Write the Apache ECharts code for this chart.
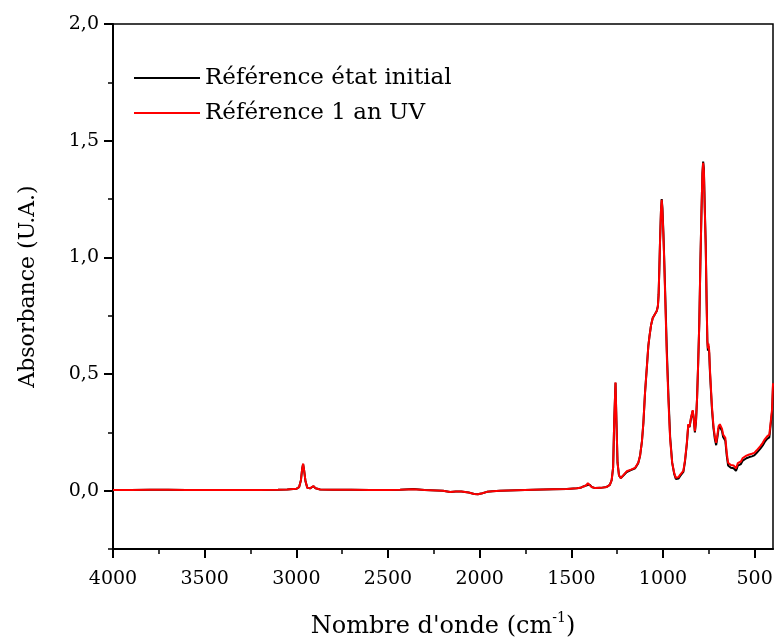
<!DOCTYPE html>
<html>
<head>
<meta charset="utf-8">
<script src="https://cdn.jsdelivr.net/npm/echarts@6/dist/echarts.min.js"></script>
<style>
html,body{margin:0;padding:0;background:#fff;}
#chart{width:776px;height:638px;}
</style>
</head>
<body>
<div id="chart"></div>
<script>
// Wavenumbers (cm-1)
var wn = [4000,3900,3800,3700,3600,3500,3400,3300,3200,3100,3050,3000,2985,2975,2968,2963,2958,2950,2940,2925,2907,2895,2870,2800,2700,2600,2500,2434,2362,2300,2200,2161,2130,2100,2060,2030,2010,1985,1960,1930,1889,1800,1707,1600,1525,1470,1450,1434,1420,1410,1400,1389,1370,1340,1307,1290,1280,1272,1266,1259,1254,1248,1240,1230,1215,1198,1175,1152,1135,1125,1115,1107,1098,1088,1080,1074,1065,1056,1045,1034,1028,1024,1020,1016,1011,1007,1003,998,994,987,979,970,961,950,939,930,925,915,907,898,889,880,870,862,855,848,838,832,826,820,814,808,802,796,790,785,781,777,772,767,762,758,755,752,748,744,740,733,725,717,710,703,697,690,684,678,672,665,660,652,645,638,630,622,615,608,602,596,592,588,583,575,565,557,545,529,515,502,490,483,470,456,445,432,420,410,405,400];
// Référence 1 an UV (red)
var absUV = [0.003,0.003,0.004,0.004,0.003,0.003,0.003,0.003,0.003,0.004,0.005,0.008,0.015,0.045,0.095,0.116,0.09,0.04,0.012,0.01,0.02,0.01,0.005,0.004,0.004,0.003,0.003,0.004,0.006,0.003,0.000,-0.006,-0.004,-0.004,-0.008,-0.014,-0.015,-0.011,-0.005,-0.002,0.000,0.002,0.004,0.006,0.007,0.010,0.012,0.018,0.022,0.032,0.028,0.016,0.011,0.012,0.016,0.025,0.045,0.10,0.30,0.464,0.30,0.12,0.065,0.054,0.068,0.083,0.090,0.098,0.12,0.15,0.21,0.29,0.42,0.53,0.62,0.66,0.71,0.74,0.755,0.77,0.79,0.84,0.95,1.075,1.20,1.246,1.20,1.10,1.00,0.80,0.575,0.38,0.22,0.12,0.076,0.055,0.05,0.058,0.068,0.073,0.085,0.13,0.204,0.285,0.275,0.31,0.345,0.31,0.255,0.30,0.40,0.55,0.72,0.98,1.20,1.36,1.405,1.37,1.20,1.05,0.80,0.64,0.61,0.63,0.60,0.52,0.46,0.36,0.28,0.23,0.205,0.24,0.276,0.285,0.288,0.265,0.24,0.24,0.226,0.16,0.12,0.115,0.11,0.105,0.108,0.10,0.096,0.108,0.118,0.112,0.11,0.125,0.14,0.145,0.15,0.155,0.158,0.162,0.172,0.177,0.19,0.205,0.22,0.233,0.24,0.242,0.35,0.46];
// Référence état initial (black)
var absInit = [0.003,0.003,0.004,0.004,0.003,0.003,0.003,0.003,0.003,0.004,0.005,0.008,0.015,0.045,0.095,0.114,0.09,0.04,0.012,0.01,0.019,0.01,0.005,0.004,0.004,0.003,0.003,0.004,0.007,0.003,0.000,-0.006,-0.004,-0.004,-0.008,-0.014,-0.015,-0.011,-0.005,-0.002,0.000,0.002,0.004,0.006,0.007,0.010,0.012,0.018,0.022,0.030,0.026,0.016,0.011,0.012,0.016,0.025,0.045,0.10,0.30,0.462,0.30,0.12,0.065,0.054,0.066,0.080,0.088,0.096,0.118,0.15,0.21,0.29,0.42,0.53,0.62,0.66,0.71,0.74,0.755,0.77,0.79,0.84,0.95,1.075,1.20,1.250,1.21,1.11,1.01,0.82,0.60,0.40,0.23,0.12,0.072,0.050,0.045,0.052,0.062,0.068,0.080,0.125,0.20,0.282,0.272,0.307,0.342,0.305,0.25,0.295,0.40,0.55,0.72,0.98,1.20,1.36,1.41,1.38,1.21,1.06,0.81,0.64,0.60,0.62,0.59,0.51,0.45,0.35,0.27,0.22,0.195,0.23,0.266,0.275,0.278,0.255,0.23,0.23,0.214,0.148,0.108,0.103,0.098,0.093,0.096,0.088,0.085,0.097,0.107,0.101,0.099,0.114,0.129,0.134,0.139,0.144,0.147,0.151,0.161,0.166,0.179,0.194,0.209,0.222,0.228,0.230,0.34,0.45];

var xMajorTicks = [4000,3500,3000,2500,2000,1500,1000,500];
var xMinorTicks = [3750,3250,2750,2250,1750,1250,750];
var yMajorTicks = [0,0.5,1.0,1.5,2.0];
var yMinorTicks = [-0.25,0.25,0.75,1.25,1.75];

var seriesNames = ['Référence état initial', 'Référence 1 an UV'];
var seriesColors = ['#000000', '#ff0000'];

function pairs(xs, ys){ return xs.map(function(x,i){ return [x, ys[i]]; }); }

var FONT = 'DejaVu Serif';
var chart = echarts.init(document.getElementById('chart'), null, {renderer:'canvas'});

var xBase = {type:'value', min:400, max:4000, inverse:true, position:'bottom', offset:0, splitLine:{show:false}};
var yBase = {type:'value', min:-0.25, max:2.0, position:'left', offset:0, splitLine:{show:false}};

chart.setOption({
  animation:false,
  backgroundColor:'#ffffff',
  textStyle:{fontFamily:FONT},
  grid:{left:113, right:3, top:24, bottom:89, containLabel:false, outerBoundsMode:'none',
    show:true, borderColor:'#000', borderWidth:1.5, backgroundColor:'transparent'},
  legend:{
    orient:'vertical', left:129, top:60, itemWidth:66, itemHeight:2, itemGap:9, icon:'rect',
    data:seriesNames,
    textStyle:{fontFamily:FONT, fontSize:23, color:'#000', lineHeight:26}
  },
  xAxis:[
    Object.assign({}, xBase, {
      name:"{main|Nombre d'onde (cm}{sup|-1}{main|)}", nameLocation:'middle', nameGap:62,
      nameTextStyle:{fontFamily:FONT, fontSize:24, color:'#000',
        rich:{
          main:{fontFamily:FONT, fontSize:24, color:'#000', lineHeight:28, verticalAlign:'bottom'},
          sup:{fontFamily:FONT, fontSize:14, color:'#000', lineHeight:14, verticalAlign:'top'}
        }},
      axisLine:{show:true, onZero:false, lineStyle:{color:'#000', width:2}},
      axisTick:{show:true, inside:false, length:9, lineStyle:{color:'#000', width:2}, customValues:xMajorTicks},
      axisLabel:{show:true, margin:21, fontFamily:FONT, fontSize:19, color:'#000', customValues:xMajorTicks,
        formatter:function(v){ return String(v); }}
    }),
    Object.assign({}, xBase, {
      axisLine:{show:false, onZero:false},
      axisTick:{show:true, inside:false, length:5, lineStyle:{color:'#000', width:1.5}, customValues:xMinorTicks},
      axisLabel:{show:false}
    })
  ],
  yAxis:[
    Object.assign({}, yBase, {
      name:'Absorbance (U.A.)', nameLocation:'middle', nameGap:74,
      nameTextStyle:{fontFamily:FONT, fontSize:22, color:'#000'},
      axisLine:{show:true, onZero:false, lineStyle:{color:'#000', width:2}},
      axisTick:{show:true, inside:false, length:9, lineStyle:{color:'#000', width:2}, customValues:yMajorTicks},
      axisLabel:{show:true, margin:14, fontFamily:FONT, fontSize:19, color:'#000', customValues:yMajorTicks,
        formatter:function(v){ return v.toFixed(1).replace('.', ','); }}
    }),
    Object.assign({}, yBase, {
      axisLine:{show:false, onZero:false},
      axisTick:{show:true, inside:false, length:5, lineStyle:{color:'#000', width:1.5}, customValues:yMinorTicks},
      axisLabel:{show:false}
    })
  ],
  series:[
    {name:seriesNames[0], type:'line', data:pairs(wn, absInit), symbol:'none', smooth:false,
      lineStyle:{color:seriesColors[0], width:2}, itemStyle:{color:seriesColors[0]}, xAxisIndex:0, yAxisIndex:0, z:2},
    {name:seriesNames[1], type:'line', data:pairs(wn, absUV), symbol:'none', smooth:false,
      lineStyle:{color:seriesColors[1], width:2}, itemStyle:{color:seriesColors[1]}, xAxisIndex:0, yAxisIndex:0, z:3}
  ]
});
</script>
</body>
</html>
